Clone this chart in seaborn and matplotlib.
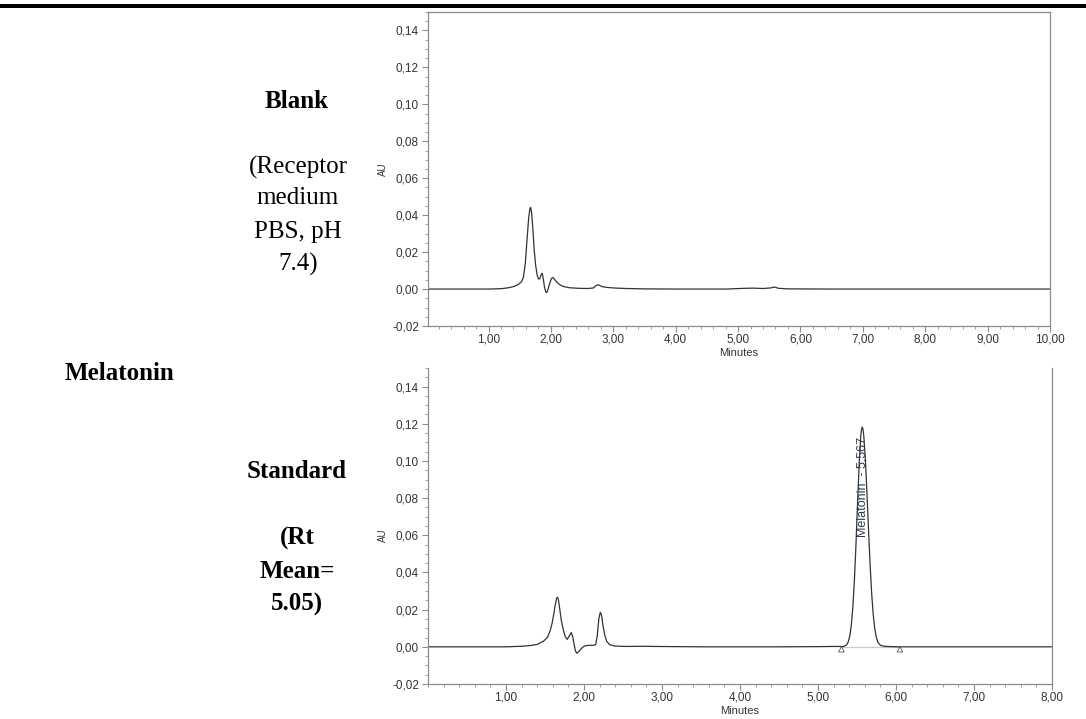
import matplotlib
matplotlib.use("Agg")
import matplotlib.pyplot as plt
from matplotlib.patches import Rectangle
from matplotlib.ticker import MultipleLocator, FixedLocator, FuncFormatter
import seaborn as sns
import pandas as pd

# ---------------- data ----------------
blank_time = [0.03, 0.50, 1.00, 1.20, 1.30, 1.40, 1.48, 1.53, 1.56, 1.59, 1.62, 1.645,
              1.665, 1.676, 1.69, 1.71, 1.73, 1.755, 1.78, 1.80, 1.82, 1.845, 1.862,
              1.88, 1.90, 1.92, 1.935, 1.95, 1.98, 2.01, 2.035, 2.06, 2.10, 2.15,
              2.20, 2.30, 2.45, 2.60, 2.68, 2.72, 2.75, 2.78, 2.82, 2.90, 3.00,
              3.20, 3.50, 4.00, 4.80, 5.10, 5.25, 5.40, 5.52, 5.58, 5.65, 5.80,
              6.50, 10.00]
blank_au = [0.0, 0.0, 0.0, 0.0002, 0.0006, 0.0013, 0.0025, 0.0040, 0.0065, 0.0140,
            0.0280, 0.0390, 0.0438, 0.0442, 0.0415, 0.0330, 0.0220, 0.0130, 0.0075,
            0.0055, 0.0055, 0.0080, 0.0085, 0.0050, 0.0005, -0.0017, -0.0018,
            -0.0005, 0.0030, 0.0058, 0.0063, 0.0052, 0.0035, 0.0022, 0.0014,
            0.0007, 0.0004, 0.0003, 0.0006, 0.0018, 0.0023, 0.0020, 0.0013,
            0.0009, 0.0006, 0.0003, 0.0001, 0.0, 0.0, 0.0004, 0.0005, 0.0003,
            0.0006, 0.0011, 0.0004, 0.0001, 0.0, 0.0]

std_time = [0.00, 1.00, 1.20, 1.31, 1.40, 1.48, 1.53, 1.565, 1.59, 1.61, 1.63, 1.648,
            1.658, 1.67, 1.69, 1.71, 1.735, 1.76, 1.785, 1.81, 1.837, 1.855, 1.875,
            1.89, 1.906, 1.93, 1.96, 1.99, 2.02, 2.06, 2.12, 2.15, 2.17, 2.19,
            2.209, 2.225, 2.245, 2.265, 2.29, 2.33, 2.40, 2.55, 2.75, 2.90, 3.20,
            3.50, 4.50, 5.00, 5.20, 5.327, 5.367, 5.387, 5.407, 5.427, 5.447,
            5.467, 5.487, 5.507, 5.527, 5.547, 5.557, 5.567, 5.577, 5.587, 5.607,
            5.627, 5.647, 5.667, 5.687, 5.707, 5.727, 5.747, 5.767, 5.80, 5.85,
            5.95, 6.05, 8.00]
std_au = [0.0, 0.0, 0.0003, 0.0007, 0.0013, 0.0030, 0.0050, 0.0085, 0.0125, 0.0170,
          0.0222, 0.0260, 0.0267, 0.0258, 0.0200, 0.0140, 0.0090, 0.0055, 0.0040,
          0.0058, 0.0077, 0.0055, 0.0010, -0.0022, -0.0034, -0.0028, -0.0012,
          0.0000, 0.0006, 0.0008, 0.0008, 0.0012, 0.0060, 0.0150, 0.0186, 0.0170,
          0.0110, 0.0065, 0.0030, 0.0011, 0.0004, 0.0002, 0.0003, 0.0002, 0.0001,
          0.0, 0.0, 0.0001, 0.0002, 0.0002, 0.0010, 0.0026, 0.0057, 0.0116,
          0.0215, 0.0361, 0.0553, 0.0771, 0.0976, 0.1126, 0.1168, 0.1182, 0.1171,
          0.1135, 0.1011, 0.0834, 0.0636, 0.0450, 0.0294, 0.0178, 0.0100, 0.0052,
          0.0025, 0.0008, 0.0003, 0.0001, 0.0, 0.0]

peak_name = "Melatonin"
peak_rt = 5.567
peak_label_au = 0.059
integration_marks_time = [5.30, 6.05]
integration_marks_au = [-0.0013, -0.0013]

y_ticks = [-0.02, 0.00, 0.02, 0.04, 0.06, 0.08, 0.10, 0.12, 0.14]
x_ticks_blank = [1, 2, 3, 4, 5, 6, 7, 8, 9, 10]
x_ticks_std = [1, 2, 3, 4, 5, 6, 7, 8]

# ---------------- styling ----------------
sns.set_theme(style="ticks")
plt.rcParams["font.family"] = ["Liberation Sans", "DejaVu Sans"]

W, H = 1086, 719
fig = plt.figure(figsize=(W / 100, H / 100), dpi=100)
fig.patch.set_facecolor("white")

def fx(px):
    return px / W

def fy(py):
    return 1 - py / H

# top thick rule
fig.add_artist(Rectangle((0, fy(7.5)), 1, 3.5 / H, transform=fig.transFigure,
                         facecolor="black", edgecolor="none"))

ax1 = fig.add_axes([fx(428), fy(326), (1050 - 428) / W, (326 - 12) / H])
ax2 = fig.add_axes([fx(428), fy(684), (1052 - 428) / W, (684 - 368) / H])

line_col = "#333333"
spine_col = "#8c8c8c"
fmt = FuncFormatter(lambda v, p: f"{round(v, 4):.2f}".replace(".", ",").replace("-0,00", "0,00"))

df_blank = pd.DataFrame({"Minutes": blank_time, "AU": blank_au})
df_std = pd.DataFrame({"Minutes": std_time, "AU": std_au})

sns.lineplot(data=df_blank, x="Minutes", y="AU", ax=ax1, color=line_col,
             linewidth=0.9, estimator=None, sort=False)

# integration baseline + markers under the standard trace
sns.lineplot(x=integration_marks_time, y=[0.0, 0.0], ax=ax2, color="#c8c8c8",
             linewidth=0.9, estimator=None, sort=False)
sns.lineplot(data=df_std, x="Minutes", y="AU", ax=ax2, color=line_col,
             linewidth=0.9, estimator=None, sort=False)
sns.scatterplot(x=integration_marks_time, y=integration_marks_au, ax=ax2,
                marker="^", s=16, facecolor="none", edgecolor="#555555",
                linewidth=0.6, zorder=5)

ax2.text(peak_rt, peak_label_au, f"{peak_name}  - {peak_rt:.3f}".replace(".", ","),
         rotation=90, ha="center", va="bottom", fontsize=9, color="#2b3a4a",
         family=["Liberation Sans", "DejaVu Sans"])

for ax, xt, xlim, top_spine in [(ax1, x_ticks_blank, (0.03, 10.0), True),
                                (ax2, x_ticks_std, (0.0, 8.0), False)]:
    ax.set_xlim(*xlim)
    ax.set_ylim(-0.02, 0.15)
    ax.xaxis.set_major_locator(FixedLocator(xt))
    ax.xaxis.set_minor_locator(MultipleLocator(0.2))
    ax.yaxis.set_major_locator(FixedLocator(y_ticks))
    ax.yaxis.set_minor_locator(MultipleLocator(0.005))
    ax.xaxis.set_major_formatter(fmt)
    ax.yaxis.set_major_formatter(fmt)
    ax.tick_params(which="major", direction="out", length=4, width=0.8,
                   color=spine_col, labelsize=8.5, labelcolor="#333333", pad=2.5)
    ax.tick_params(axis="x", which="major", pad=1.5)
    ax.tick_params(which="minor", direction="out", length=2.5, width=0.7,
                   color="#a0a0a0")
    for s in ["left", "bottom", "right", "top"]:
        ax.spines[s].set_color(spine_col)
        ax.spines[s].set_linewidth(0.9)
    ax.spines["top"].set_visible(top_spine)
    ax.spines["right"].set_visible(True)
    ax.set_facecolor("white")
    ax.grid(False)
    ax.set_xlabel("Minutes", fontsize=8, color="#333333", va="top")
    ax.set_ylabel("AU", fontsize=7, color="#333333")

ax1.xaxis.set_label_coords(0.5, (326 - 348) / 314)
ax2.xaxis.set_label_coords(0.5, (684 - 706) / 316)
ax1.yaxis.set_label_coords((388 - 428) / 622, 0.5)
ax2.yaxis.set_label_coords((388 - 428) / 624, 0.47)

# ---------------- left-hand captions ----------------
serif = ["Liberation Serif", "DejaVu Serif"]
fig.text(fx(297), fy(102), "Blank", ha="center", va="center", fontsize=18,
         fontweight="bold", family=serif, color="black")
for txt, py in [("(Receptor", 167), ("medium", 198), ("PBS, pH", 232), ("7.4)", 264)]:
    fig.text(fx(298), fy(py), txt, ha="center", va="center", fontsize=18,
             family=serif, color="black")
fig.text(fx(65), fy(374), "Melatonin", ha="left", va="center", fontsize=18,
         fontweight="bold", family=serif, color="black")
fig.text(fx(297), fy(472), "Standard", ha="center", va="center", fontsize=18,
         fontweight="bold", family=serif, color="black")
for txt, py in [("(Rt", 538), ("Mean=", 571), ("5.05)", 604)]:
    fig.text(fx(297), fy(py), txt, ha="center", va="center", fontsize=18,
             fontweight="bold", family=serif, color="black")

fig.savefig("out.png", dpi=100, facecolor="white")
